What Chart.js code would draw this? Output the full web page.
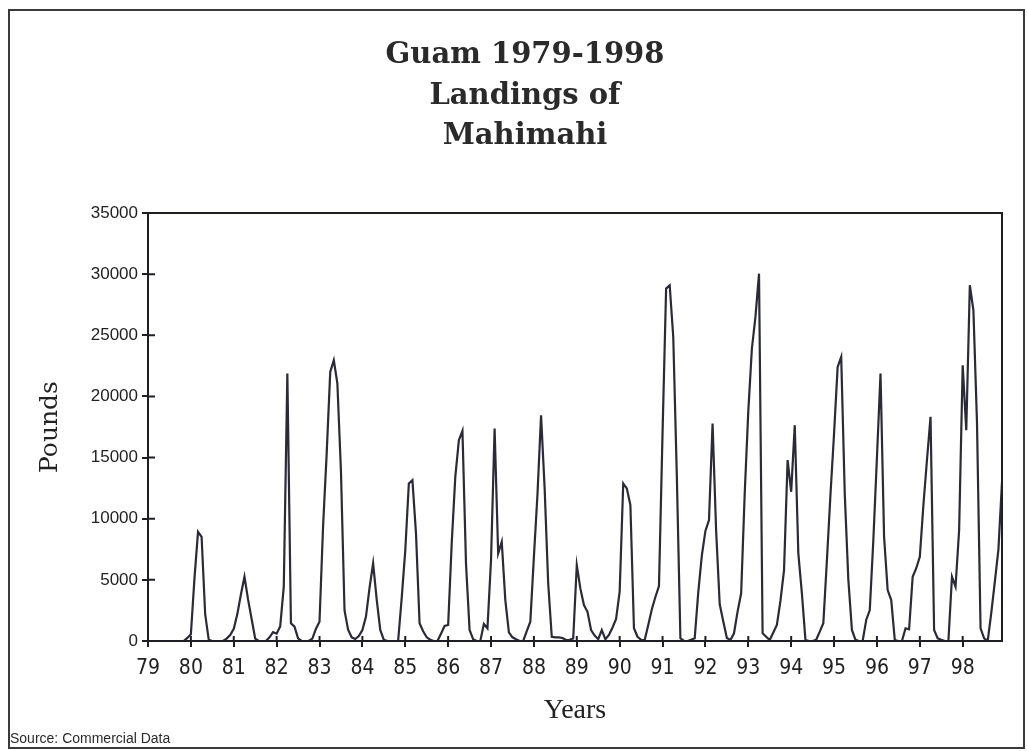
<!DOCTYPE html>
<html>
<head>
<meta charset="utf-8">
<title>Guam 1979-1998 Landings of Mahimahi</title>
<script src="https://cdn.jsdelivr.net/npm/chart.js@4.4.1/dist/chart.umd.min.js"></script>
<style>
  html, body { margin: 0; padding: 0; background: #fff; }
  #wrap { position: relative; width: 1027px; height: 751px; }
</style>
</head>
<body>
<div id="wrap"><canvas id="chart" width="1027" height="751"></canvas></div>
<script>
const titleLines = ['Guam 1979-1998', 'Landings of', 'Mahimahi'];
const sourceNote = 'Source: Commercial Data';
const yearLabels = ['79', '80', '81', '82', '83', '84', '85', '86', '87', '88',
                    '89', '90', '91', '92', '93', '94', '95', '96', '97', '98'];
const monthNames = ['Jan', 'Feb', 'Mar', 'Apr', 'May', 'Jun', 'Jul', 'Aug', 'Sep', 'Oct', 'Nov', 'Dec'];

// pounds landed per month, one row per year (Jan..Dec)
const monthlyPounds = [
  0, 0, 0, 0, 0, 0, 0, 0, 0, 0, 0, 250,                                  // 79
  550, 5100, 8930, 8520, 2200, 100, 0, 0, 0, 0, 200, 490,                // 80
  1000, 2200, 3800, 5250, 3400, 1800, 200, 0, 0, 0, 300, 720,            // 81
  600, 1200, 4440, 21870, 1450, 1170, 220, 0, 0, 0, 200, 1000,           // 82
  1580, 9400, 15300, 22000, 22960, 21050, 13900, 2500, 930, 300, 160, 400, // 83
  900, 2000, 4350, 6350, 3400, 900, 100, 0, 0, 0, 0, 3500,               // 84
  7400, 12880, 13150, 8800, 1450, 800, 300, 100, 0, 0, 600, 1230,        // 85
  1310, 8000, 13420, 16420, 17180, 6300, 900, 140, 0, 0, 1390, 1040,     // 86
  6620, 17380, 7170, 8110, 3350, 700, 300, 140, 0, 0, 800, 1580,         // 87
  6900, 12000, 18460, 12500, 4700, 350, 300, 300, 250, 80, 100, 200,     // 88
  6200, 4300, 2940, 2390, 900, 450, 150, 900, 140, 500, 1100, 1800,      // 89
  4030, 12880, 12480, 11110, 1040, 350, 100, 80, 1300, 2600, 3600, 4500, // 90
  17000, 28820, 29090, 24860, 13500, 220, 0, 0, 100, 220, 4000, 7000,    // 91
  9000, 9890, 17790, 9000, 3000, 1600, 250, 80, 630, 2400, 3900, 12100,  // 92
  18800, 23900, 26500, 30040, 630, 350, 80, 700, 1310, 3300, 5800, 14790, // 93
  12200, 17650, 7170, 3900, 80, 0, 0, 100, 770, 1450, 6600, 12000,       // 94
  16970, 22400, 23230, 12000, 5000, 900, 100, 0, 0, 1720, 2530, 8300,    // 95
  15000, 21870, 8520, 4170, 3350, 80, 0, 0, 1040, 960, 5250, 5950,       // 96
  6890, 11100, 14800, 18330, 900, 220, 100, 0, 0, 5250, 4440, 9070,      // 97
  22550, 17240, 29090, 27040, 17900, 1040, 220, 0, 2300, 4850, 7500, 13000 // 98
];

const monthLabels = [];
yearLabels.forEach(yr => monthNames.forEach(m => monthLabels.push(m + ' ' + yr)));

const INK = '#1e1e24';

// frame, plot box, inner tick stubs, title and source note
const decorPlugin = {
  id: 'decor',
  beforeDraw(chart) {
    const ctx = chart.ctx;
    ctx.save();
    ctx.fillStyle = '#ffffff';
    ctx.fillRect(0, 0, chart.width, chart.height);
    ctx.restore();
  },
  afterDraw(chart) {
    const { ctx, chartArea: a, scales } = chart;
    ctx.save();
    ctx.strokeStyle = INK;
    ctx.lineWidth = 2;
    ctx.strokeRect(a.left, a.top, a.right - a.left, a.bottom - a.top);

    // tick marks also poke a little into the plot
    ctx.beginPath();
    scales.y.ticks.forEach(t => {
      const py = scales.y.getPixelForValue(t.value);
      ctx.moveTo(a.left, py);
      ctx.lineTo(a.left + 7, py);
    });
    for (let i = 0; i < monthLabels.length; i += 12) {
      const px = scales.x.getPixelForValue(i);
      ctx.moveTo(px, a.bottom);
      ctx.lineTo(px, a.bottom - 5);
    }
    ctx.stroke();

    ctx.strokeStyle = '#3a3a3a';
    ctx.strokeRect(9, 10, 1015, 738);

    ctx.fillStyle = '#2a2a2a';
    ctx.textAlign = 'center';
    ctx.textBaseline = 'alphabetic';
    ctx.font = 'bold 29px "DejaVu Serif"';
    titleLines.forEach((t, i) => ctx.fillText(t, 525, 63 + i * 40.5));

    ctx.textAlign = 'left';
    ctx.font = '14px "Liberation Sans"';
    ctx.fillText(sourceNote, 10, 743);
    ctx.restore();
  }
};

new Chart(document.getElementById('chart'), {
  type: 'line',
  data: {
    labels: monthLabels,
    datasets: [{
      label: 'Pounds',
      data: monthlyPounds,
      borderColor: '#2a2a38',
      borderWidth: 2.2,
      pointRadius: 0,
      tension: 0,
      fill: false
    }]
  },
  options: {
    responsive: false,
    animation: false,
    layout: { padding: { top: 213, right: 25, bottom: 0, left: 0 } },
    plugins: {
      legend: { display: false },
      title: { display: false },
      tooltip: { enabled: false }
    },
    scales: {
      x: {
        type: 'category',
        offset: false,
        afterFit: s => { s.height = 110; },
        border: { display: true, color: INK, width: 2 },
        grid: {
          drawOnChartArea: false,
          drawTicks: true,
          tickLength: 6,
          lineWidth: 2,
          color: c => (c.index % 12 === 0 ? INK : 'rgba(0,0,0,0)')
        },
        ticks: {
          autoSkip: false,
          maxRotation: 0,
          minRotation: 0,
          padding: 9,
          color: '#222',
          font: { family: "'Liberation Sans Narrow', 'DejaVu Sans Condensed', sans-serif", size: 21 },
          callback: (val, idx) => (idx % 12 === 0 ? yearLabels[idx / 12] : '')
        },
        title: {
          display: true,
          text: 'Years',
          color: '#222',
          font: { family: "'Liberation Serif', serif", size: 28 },
          padding: { top: 4, bottom: 24 }
        }
      },
      y: {
        min: 0,
        max: 35000,
        afterFit: s => { s.width = 148; },
        border: { display: true, color: INK, width: 2 },
        grid: {
          drawOnChartArea: false,
          drawTicks: true,
          tickLength: 6,
          lineWidth: 2,
          color: INK
        },
        ticks: {
          stepSize: 5000,
          padding: 4,
          color: '#222',
          font: { family: "'Liberation Sans', Arial, sans-serif", size: 17 },
          callback: v => String(v)
        },
        title: {
          display: true,
          text: 'Pounds',
          color: '#222',
          font: { family: "'DejaVu Serif', serif", size: 25 },
          padding: { top: 35, bottom: 0 }
        }
      }
    }
  },
  plugins: [decorPlugin]
});
</script>
</body>
</html>
